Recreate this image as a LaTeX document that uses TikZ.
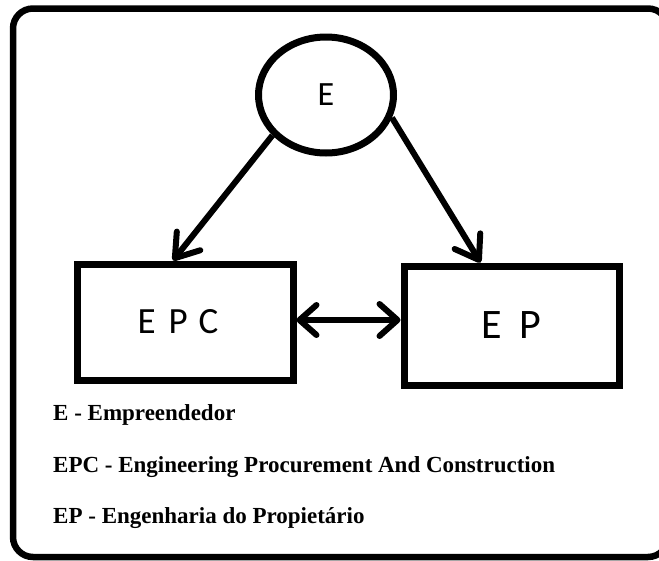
\documentclass[tikz,border=0pt]{standalone}
\usepackage{fontspec}
\setmainfont{Liberation Serif}
\newfontfamily\carl{Carlito}
\usetikzlibrary{arrows.meta,shapes.geometric,calc}
\begin{document}
\begin{tikzpicture}[x=1pt,y=-1pt,
  frame/.style={line width=6.5pt, rounded corners=20pt},
  circnode/.style={draw, ellipse, line width=7pt, minimum width=135pt, minimum height=116pt, inner sep=0pt, font=\carl\fontsize{34pt}{36pt}\selectfont},
  boxnode/.style={draw, rectangle, line width=7pt, inner sep=0pt, font=\carl\fontsize{37pt}{40pt}\selectfont},
  arr/.style={line width=6pt, -{Straight Barb[round,length=22pt,width=30pt]}},
  darr/.style={line width=6pt, {Straight Barb[round,length=17pt,width=30pt]}-{Straight Barb[round,length=18pt,width=32pt]}},
  legend/.style={anchor=base west, inner sep=0pt, font=\bfseries\fontsize{23pt}{27pt}\selectfont}]
\useasboundingbox (0,0) rectangle (659,560);
\clip (0,0) rectangle (659,560);
\draw[frame] (13,8.5) rectangle (668,557);
\node[circnode] (E) at (326,95) {E};
\node[boxnode, minimum width=216pt, minimum height=116pt] (EPC) at (185,322) {\raisebox{-3pt}{E\hspace{13pt}P\hspace{11pt}C}\kern14pt\null};
\node[boxnode, minimum width=215pt, minimum height=119pt, font=\carl\fontsize{42pt}{46pt}\selectfont] (EP) at (511.5,325.5) {E\hspace{17pt}P};
\draw[arr] (E.217) -- ([xshift=-12pt]EPC.north);
\draw[arr] (E.-19) -- ([xshift=-31pt]EP.north);
\draw[darr] ([yshift=2pt]EPC.east) -- ([yshift=2pt]EPC.east -| EP.west);
\node[legend] (L1) at (53,420) {E - Empreendedor};
\node[legend] (L2) at (53,472) {EPC - Engineering Procurement And Construction};
\node[legend] (L3) at (53,523) {EP - Engenharia do Propietário};
\end{tikzpicture}
\end{document}
